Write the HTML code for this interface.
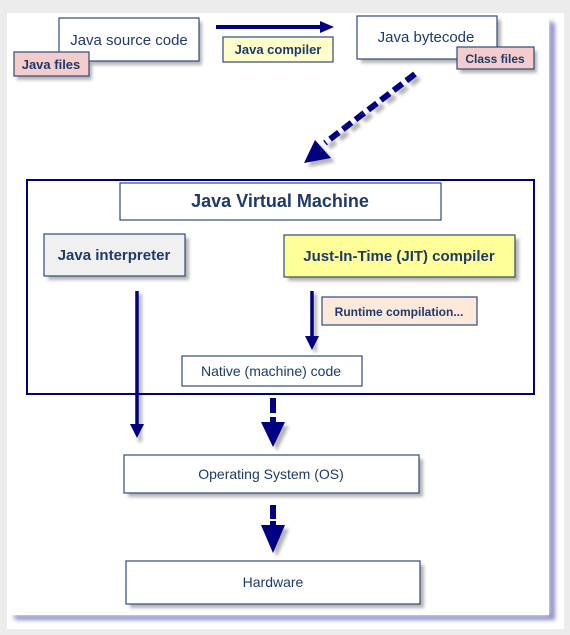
<!DOCTYPE html>
<html><head><meta charset="utf-8"><style>
html,body{margin:0;padding:0;background:#fff;}
svg{display:block;font-family:"Liberation Sans",Arial,sans-serif;}
</style></head><body>
<svg width="570" height="635" viewBox="0 0 570 635" xmlns="http://www.w3.org/2000/svg">
<defs>
<filter id="sh" x="-20%" y="-20%" width="150%" height="160%"><feGaussianBlur stdDeviation="1.5"/></filter>
<filter id="bl" x="-10%" y="-10%" width="120%" height="120%"><feGaussianBlur stdDeviation="2"/></filter>
</defs>
<rect x="0" y="0" width="570" height="635" fill="#ececec"/>
<rect x="7" y="13" width="557" height="616" fill="#fff"/>
<path d="M549 20 L555 24 L555 620 L16 620 L12 615 L549 615 Z" fill="#8c8cc8" filter="url(#bl)"/>
<rect x="7" y="13" width="542" height="602" fill="#fff"/>

<g fill="#777" opacity="0.55" filter="url(#sh)">
<rect x="62" y="22" width="140" height="43"/>
<rect x="17" y="56" width="75" height="24"/>
<rect x="361" y="20" width="140" height="43"/>
<rect x="460" y="51" width="77" height="22"/>
<rect x="48" y="238" width="141" height="42"/>
<rect x="288" y="239" width="231" height="42"/>
<rect x="128" y="459" width="295" height="38"/>
<rect x="130" y="565" width="294" height="43"/>
<line x1="140" y1="294" x2="140" y2="442" stroke="#777" stroke-width="4"/>
<line x1="315" y1="294" x2="315" y2="352" stroke="#777" stroke-width="4"/>
<path d="M419 78 L329 147" stroke="#777" stroke-width="6" stroke-dasharray="10 5"/>
<polygon points="308,167 319,144 335,162"/>
<polygon points="265,426 289,426 277,451"/>
<polygon points="265,529 289,529 277,557"/>
</g>

<g stroke="#2e4a7a" stroke-width="1.2">
<rect x="59" y="18" width="140" height="43" fill="#fff"/>
<rect x="14" y="52" width="75" height="24" fill="#f4cccc"/>
<rect x="223" y="37" width="110" height="25" fill="#ffffcc"/>
<rect x="357" y="16" width="140" height="43" fill="#fff"/>
<rect x="457" y="47" width="77" height="22" fill="#f4cccc"/>
<rect x="120" y="183" width="321" height="37" fill="#fff"/>
<rect x="44" y="234" width="141" height="42" fill="#f0f0f0"/>
<rect x="284" y="235" width="231" height="42" fill="#ffff99"/>
<rect x="322" y="297" width="155" height="28" fill="#fde9dc"/>
<rect x="182" y="356" width="180" height="30" fill="#fff"/>
<rect x="124" y="455" width="295" height="38" fill="#fff"/>
<rect x="126" y="561" width="294" height="43" fill="#fff"/>
</g>
<rect x="27" y="180" width="507" height="214" fill="none" stroke="#000080" stroke-width="2"/>

<g fill="#000080" stroke="none">
<line x1="216" y1="27" x2="322" y2="27" stroke="#000080" stroke-width="4"/>
<polygon points="320,21 334,27 320,33"/>
<path d="M415 74 L325 143" stroke="#000080" stroke-width="6" stroke-dasharray="11 5" fill="none"/>
<polygon points="304,163 315,140 331,158"/>
<line x1="137" y1="291" x2="137" y2="426" stroke="#000080" stroke-width="3.5"/>
<polygon points="130,424 144,424 137,438"/>
<line x1="312" y1="291" x2="312" y2="338" stroke="#000080" stroke-width="3.5"/>
<polygon points="305,336 319,336 312,350"/>
<rect x="270" y="398" width="6" height="15"/>
<rect x="270" y="417" width="6" height="6"/>
<polygon points="261,422 285,422 273,447"/>
<rect x="270" y="505" width="6" height="14"/>
<rect x="270" y="521" width="6" height="5"/>
<polygon points="261,525 285,525 273,553"/>
</g>

<g fill="#1f3a6a" text-anchor="middle">
<text x="129" y="45" font-size="15">Java source code</text>
<text x="51" y="69" font-size="13" font-weight="bold">Java files</text>
<text x="278" y="54" font-size="13" font-weight="bold">Java compiler</text>
<text x="426" y="42" font-size="15">Java bytecode</text>
<text x="495" y="63" font-size="12" font-weight="bold">Class files</text>
<text x="280" y="207" font-size="18" font-weight="bold">Java Virtual Machine</text>
<text x="114" y="260" font-size="15" font-weight="bold">Java interpreter</text>
<text x="399" y="261" font-size="15" font-weight="bold">Just-In-Time (JIT) compiler</text>
<text x="399" y="316" font-size="12" font-weight="bold">Runtime compilation...</text>
<text x="271" y="376" font-size="14">Native (machine) code</text>
<text x="271" y="479" font-size="14">Operating System (OS)</text>
<text x="273" y="587" font-size="14">Hardware</text>
</g>
</svg>
</body></html>
